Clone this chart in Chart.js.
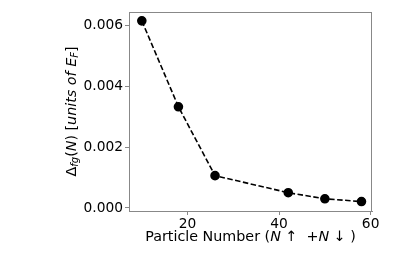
<!DOCTYPE html>
<html>
<head>
<meta charset="utf-8">
<script src="https://cdn.jsdelivr.net/npm/chart.js@4"></script>
<style>
  html, body { margin: 0; padding: 0; background: #fff; }
  #wrap { width: 415px; height: 277px; }
</style>
</head>
<body>
<div id="wrap"><canvas id="chart" width="415" height="277"></canvas></div>
<script>
const particleNumbers = [10, 18, 26, 42, 50, 58];
const gapValues = [0.00614, 0.00332, 0.00106, 0.0005, 0.00030, 0.00021];
const xTicks = [20, 40, 60];
const yTicks = [0, 0.002, 0.004, 0.006];

const FONT = "'DejaVu Sans'";
const FS = 13.8;
const LFS = 14.3;

// draws a row of text pieces, centred on (cx, cy)
function drawRuns(ctx, runs, cx, cy) {
    let total = 0;
    runs.forEach(r => {
        ctx.font = (r.it ? "oblique " : "") + (r.size || LFS) + "px " + FONT;
        r.w = ctx.measureText(r.t).width;
        total += r.w;
    });
    let x = cx - total / 2;
    ctx.textBaseline = "middle";
    ctx.textAlign = "left";
    runs.forEach(r => {
        ctx.font = (r.it ? "oblique " : "") + (r.size || LFS) + "px " + FONT;
        ctx.fillText(r.t, x, cy + (r.dy || 0));
        x += r.w;
    });
}

const labelsPlugin = {
    id: "labels",
    afterDraw(chart) {
        const ctx = chart.ctx;
        const a = chart.chartArea;
        ctx.save();
        ctx.strokeStyle = "#888";
        ctx.lineWidth = 1;
        ctx.strokeRect(a.left + 0.5, a.top + 0.5, a.right - a.left - 1, a.bottom - a.top);
        ctx.fillStyle = "#000";

        const sub = LFS * 0.7;
        drawRuns(ctx, [
            {t: "Particle Number ("},
            {t: "N", it: true},
            {t: " \u2191  +"},
            {t: "N", it: true},
            {t: " \u2193 )"}
        ], (a.left + a.right) / 2, 237);

        ctx.translate(72, (a.top + a.bottom) / 2);
        ctx.rotate(-Math.PI / 2);
        drawRuns(ctx, [
            {t: "\u0394"},
            {t: "fg", it: true, size: sub, dy: 3},
            {t: "("},
            {t: "N", it: true},
            {t: ") ["},
            {t: "units of E", it: true},
            {t: "F", it: true, size: sub, dy: 3},
            {t: "]"}
        ], 0, 0);
        ctx.restore();
    }
};

new Chart(document.getElementById("chart"), {
    type: "scatter",
    data: {
        datasets: [{
            data: particleNumbers.map((n, i) => ({x: n, y: gapValues[i]})),
            showLine: true,
            borderColor: "#000",
            borderWidth: 1.6,
            borderDash: [5.5, 2.5],
            backgroundColor: "#000",
            pointRadius: 4,
            pointHoverRadius: 4
        }]
    },
    options: {
        responsive: false,
        animation: false,
        layout: { padding: { left: 0, right: 43, top: 12, bottom: 0 } },
        plugins: { legend: { display: false }, tooltip: { enabled: false } },
        scales: {
            x: {
                type: "linear",
                min: 7.2,
                max: 60.3,
                afterBuildTicks: s => { s.ticks = xTicks.map(v => ({value: v})); },
                afterFit: s => { s.height = 66; },
                grid: { drawOnChartArea: false, tickLength: 4, tickColor: "#888" },
                border: { color: "#888" },
                ticks: { color: "#000", padding: 1, maxRotation: 0, font: { family: FONT, size: FS } }
            },
            y: {
                min: -0.0001,
                max: 0.00643,
                afterBuildTicks: s => { s.ticks = yTicks.map(v => ({value: v})); },
                afterFit: s => { s.width = 129; },
                grid: { drawOnChartArea: false, tickLength: 4, tickColor: "#888" },
                border: { color: "#888" },
                ticks: { color: "#000", padding: 2, font: { family: FONT, size: FS },
                    callback: v => v.toFixed(3) }
            }
        }
    },
    plugins: [labelsPlugin]
});
</script>
</body>
</html>
